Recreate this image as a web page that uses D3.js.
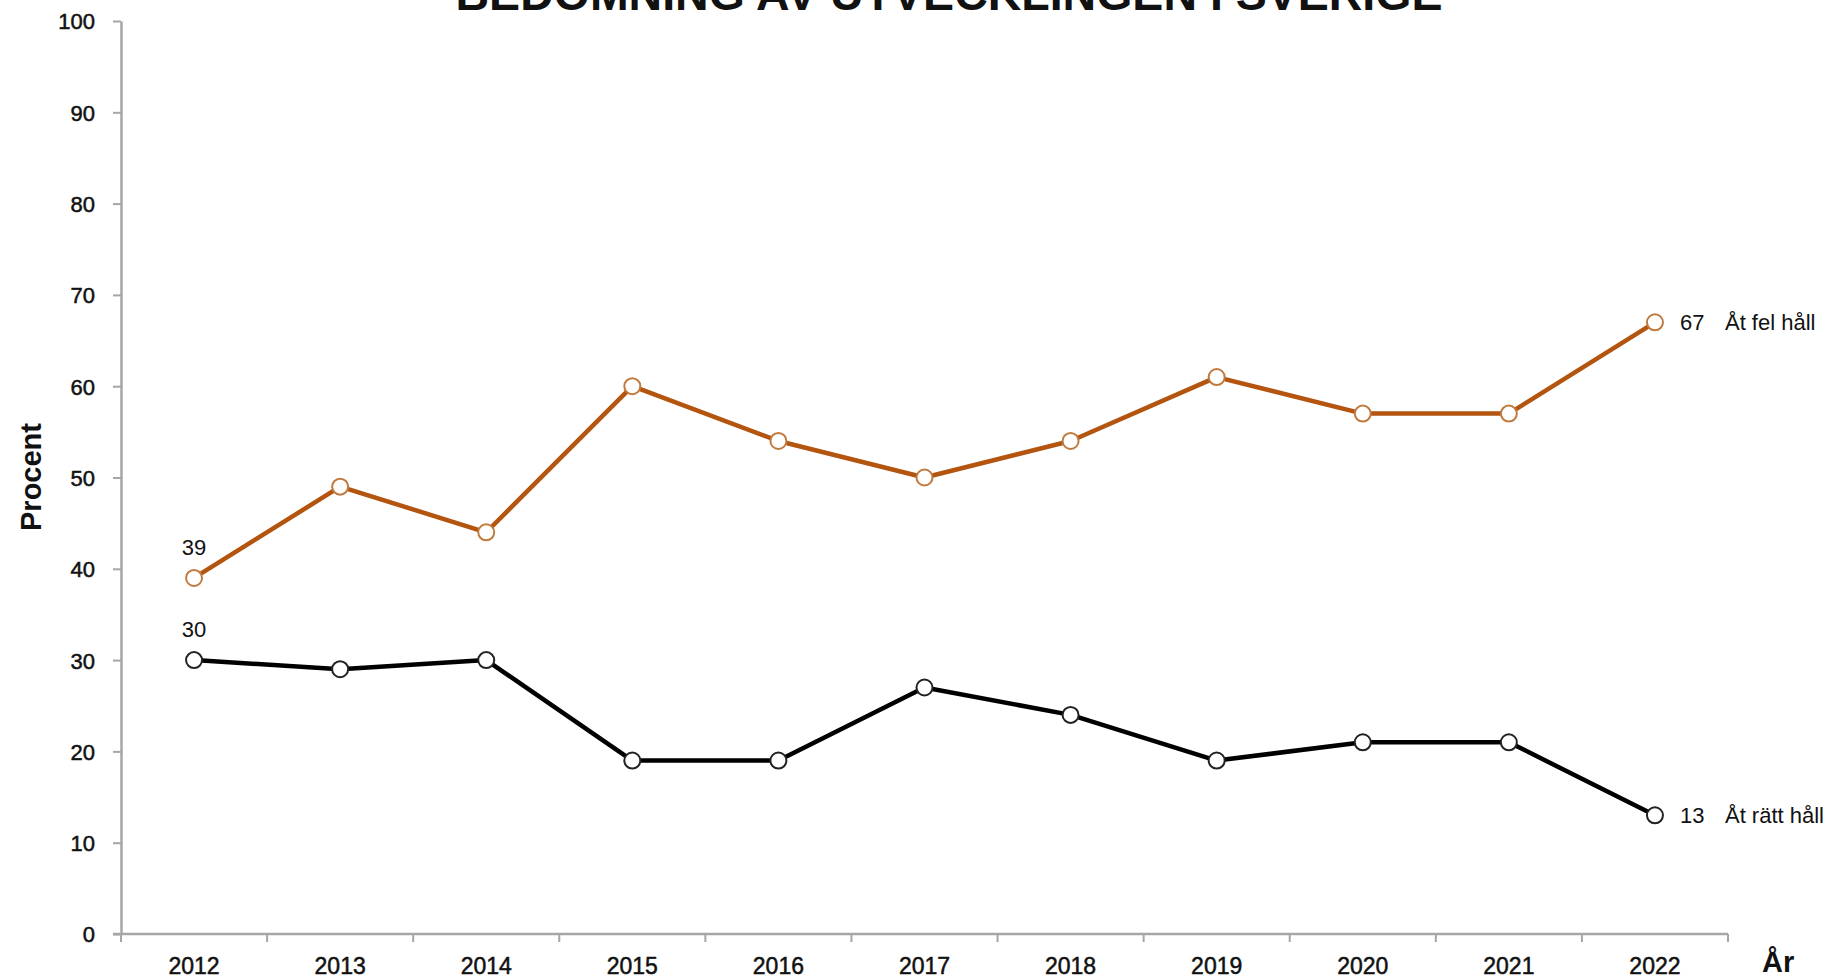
<!DOCTYPE html>
<html>
<head>
<meta charset="utf-8">
<script src="https://cdn.jsdelivr.net/npm/d3@7"></script>
<style>
  body { margin: 0; background: #fff; }
  text { font-family: "Liberation Sans", Arial, sans-serif; fill: #111; }
  .heavy { stroke: #111; stroke-width: 0.5px; }
</style>
</head>
<body>
<div id="wrapper"></div>
<script>
const years = ["2012", "2013", "2014", "2015", "2016", "2017", "2018", "2019", "2020", "2021", "2022"]
const felHall = [39, 49, 44, 60, 54, 50, 54, 61, 57, 57, 67]
const rattHall = [30, 29, 30, 19, 19, 27, 24, 19, 21, 21, 13]
const yTicks = [0, 10, 20, 30, 40, 50, 60, 70, 80, 90, 100]
const seriesNames = ["Åt fel håll", "Åt rätt håll"]
const title = "BEDÖMNING AV UTVECKLINGEN I SVERIGE"

window.addEventListener("load", paint)

function paint() {
    const dims = { width: 1837, height: 980, left: 121, right: 1728, top: 21, bottom: 934 }

    const svg = d3.select("#wrapper").append("svg")
        .attr("width", dims.width).attr("height", dims.height)

    const x = d3.scaleBand().domain(years).range([dims.left, dims.right]).padding(0)
    const y = d3.scaleLinear().domain([0, 100]).range([dims.bottom, dims.top])
    const cx = d => x(d) + x.bandwidth() / 2

    // title, cut off at the top like the source
    svg.append("text")
        .attr("x", 949).attr("y", 10)
        .attr("text-anchor", "middle")
        .attr("font-size", 46.5).attr("font-weight", "bold")
        .text(title)

    // y axis
    const yAxis = svg.append("g")
        .attr("transform", `translate(${dims.left},0)`)
        .call(d3.axisLeft(y).tickValues(yTicks).tickSize(8).tickPadding(18).tickSizeOuter(0))
    yAxis.select(".domain").attr("stroke", "#a6a6a6").attr("stroke-width", 2.5)
    yAxis.selectAll(".tick line").attr("stroke", "#a6a6a6").attr("stroke-width", 2)
    yAxis.selectAll(".tick text")
        .attr("class", "heavy")
        .attr("font-size", 22).attr("font-family", "Liberation Sans, Arial, sans-serif")
        .attr("fill", "#111").attr("dy", "0.36em")

    // x axis line and boundary ticks
    svg.append("line")
        .attr("x1", dims.left - 8).attr("x2", dims.right)
        .attr("y1", dims.bottom).attr("y2", dims.bottom)
        .attr("stroke", "#a6a6a6").attr("stroke-width", 2.5)
    const bounds = years.map(d => x(d)).concat([x(years[years.length - 1]) + x.bandwidth()])
    svg.selectAll(".xtick").data(bounds).join("line")
        .attr("class", "xtick")
        .attr("x1", d => d).attr("x2", d => d)
        .attr("y1", dims.bottom).attr("y2", dims.bottom + 8)
        .attr("stroke", "#a6a6a6").attr("stroke-width", 2)
    svg.selectAll(".xlabel").data(years).join("text")
        .attr("class", "xlabel heavy")
        .attr("x", d => cx(d)).attr("y", 974)
        .attr("text-anchor", "middle").attr("font-size", 23)
        .text(d => d)

    // axis titles
    svg.append("text")
        .attr("transform", "translate(41,477) rotate(-90)")
        .attr("text-anchor", "middle")
        .attr("font-size", 29).attr("font-weight", "bold")
        .text("Procent")
    svg.append("text")
        .attr("x", 1762).attr("y", 972)
        .attr("font-size", 29).attr("font-weight", "bold")
        .text("År")

    const series = [
        { name: seriesNames[0], values: felHall, line: "#b3540f", marker: "#c07a3e" },
        { name: seriesNames[1], values: rattHall, line: "#000000", marker: "#222222" }
    ]

    const line = d3.line().x((d, i) => cx(years[i])).y(d => y(d))

    series.forEach(s => {
        svg.append("path")
            .datum(s.values)
            .attr("d", line)
            .attr("fill", "none")
            .attr("stroke", s.line).attr("stroke-width", 4.5)
            .attr("stroke-linejoin", "round")

        svg.append("g").selectAll("circle").data(s.values).join("circle")
            .attr("cx", (d, i) => cx(years[i])).attr("cy", d => y(d))
            .attr("r", 8)
            .attr("fill", "#fff").attr("stroke", s.marker).attr("stroke-width", 2)

        // first value above the first point
        svg.append("text")
            .attr("x", cx(years[0])).attr("y", y(s.values[0]) - 23)
            .attr("text-anchor", "middle").attr("font-size", 22)
            .text(s.values[0])

        // last value and series name at the end
        const last = s.values[s.values.length - 1]
        const lx = cx(years[years.length - 1])
        svg.append("text")
            .attr("x", lx + 25).attr("y", y(last)).attr("dy", "0.36em")
            .attr("font-size", 22)
            .text(last)
        svg.append("text")
            .attr("x", lx + 70).attr("y", y(last)).attr("dy", "0.36em")
            .attr("font-size", 22)
            .text(s.name)
    })
}
</script>
</body>
</html>
